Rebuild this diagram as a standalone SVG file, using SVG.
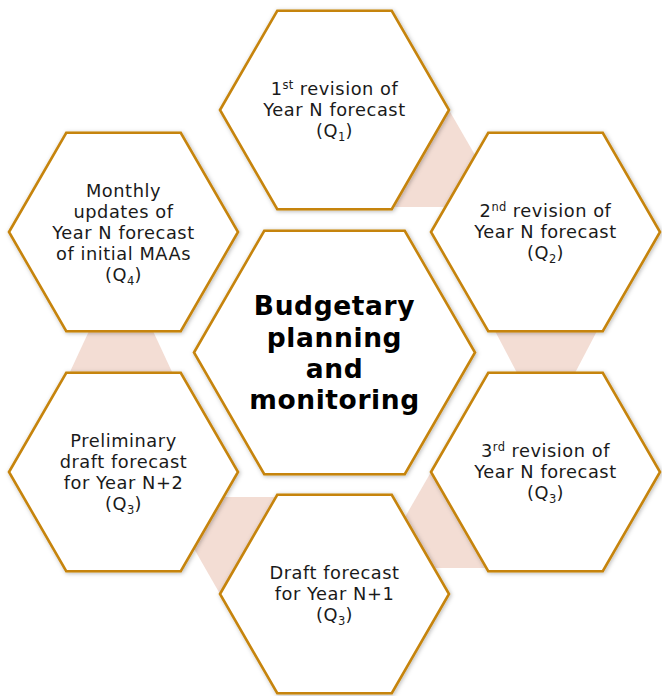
<svg xmlns="http://www.w3.org/2000/svg" width="662" height="696" viewBox="0 0 662 696">
<defs>
<filter id="sh" x="-10%" y="-10%" width="120%" height="120%">
<feDropShadow dx="1" dy="1" stdDeviation="2" flood-color="#000" flood-opacity="0.28"/>
</filter>
<style>
.hex{fill:#fff;stroke:#C6840C;stroke-width:2.6;stroke-linejoin:miter;filter:url(#sh)}
.lnk{fill:#F3DDD4;stroke:none}
.t{font-family:"DejaVu Sans","Liberation Sans",sans-serif;font-size:17.8px;letter-spacing:0.55px;fill:#1a1a1a;text-anchor:middle}
.c{font-family:"DejaVu Sans","Liberation Sans",sans-serif;font-size:26.5px;font-weight:bold;letter-spacing:0.6px;fill:#000;text-anchor:middle}
.s{font-size:11.5px;letter-spacing:0.3px}
</style>
</defs>
<rect width="662" height="696" fill="#fff"/>
<g id="connectors">
<polygon class="lnk" points="449,110 505,207 380,207 440,110"/>
<polygon class="lnk" points="493.4,328 598.6,328 573.4,376 518.6,376"/>
<polygon class="lnk" points="431,472 404.8,517.4 420,568 500,568 460,472"/>
<polygon class="lnk" points="215,497 285,497 230,594 220,594 193.9,548.4"/>
<polygon class="lnk" points="90.4,328 151.6,328 173.9,376 68.1,376"/>
</g>
<g id="n1">
<polygon class="hex" points="220,110 277.25,10.8 391.75,10.8 449,110 391.75,209.2 277.25,209.2"/>
<text class="t"><tspan x="334.5" y="95">1<tspan class="s" dy="-6">st</tspan><tspan dy="6"> revision of</tspan></tspan><tspan x="334.5" y="116">Year N forecast</tspan><tspan x="334.5" y="137">(Q<tspan class="s" dy="4">1</tspan><tspan dy="-4">)</tspan></tspan></text>
</g>
<g id="n2">
<polygon class="hex" points="431,232 488.25,132.8 602.75,132.8 660,232 602.75,331.2 488.25,331.2"/>
<text class="t"><tspan x="545.5" y="217">2<tspan class="s" dy="-6">nd</tspan><tspan dy="6"> revision of</tspan></tspan><tspan x="545.5" y="238">Year N forecast</tspan><tspan x="545.5" y="259">(Q<tspan class="s" dy="4">2</tspan><tspan dy="-4">)</tspan></tspan></text>
</g>
<g id="n3">
<polygon class="hex" points="431,472 488.25,372.8 602.75,372.8 660,472 602.75,571.2 488.25,571.2"/>
<text class="t"><tspan x="545.5" y="457">3<tspan class="s" dy="-6">rd</tspan><tspan dy="6"> revision of</tspan></tspan><tspan x="545.5" y="478">Year N forecast</tspan><tspan x="545.5" y="499">(Q<tspan class="s" dy="4">3</tspan><tspan dy="-4">)</tspan></tspan></text>
</g>
<g id="n4">
<polygon class="hex" points="220,594 277.25,494.8 391.75,494.8 449,594 391.75,693.2 277.25,693.2"/>
<text class="t"><tspan x="334.5" y="579">Draft forecast</tspan><tspan x="334.5" y="600">for Year N+1</tspan><tspan x="334.5" y="621">(Q<tspan class="s" dy="4">3</tspan><tspan dy="-4">)</tspan></tspan></text>
</g>
<g id="n5">
<polygon class="hex" points="9,472 66.25,372.8 180.75,372.8 238,472 180.75,571.2 66.25,571.2"/>
<text class="t"><tspan x="123.5" y="447">Preliminary</tspan><tspan x="123.5" y="468">draft forecast</tspan><tspan x="123.5" y="489">for Year N+2</tspan><tspan x="123.5" y="510">(Q<tspan class="s" dy="4">3</tspan><tspan dy="-4">)</tspan></tspan></text>
</g>
<g id="n6">
<polygon class="hex" points="9,232 66.25,132.8 180.75,132.8 238,232 180.75,331.2 66.25,331.2"/>
<text class="t"><tspan x="123.5" y="197">Monthly</tspan><tspan x="123.5" y="218">updates of</tspan><tspan x="123.5" y="239">Year N forecast</tspan><tspan x="123.5" y="260">of initial MAAs</tspan><tspan x="123.5" y="281">(Q<tspan class="s" dy="4">4</tspan><tspan dy="-4">)</tspan></tspan></text>
</g>
<g id="center">
<polygon class="hex" points="194,352.5 264.25,230.8 404.75,230.8 475,352.5 404.75,474.2 264.25,474.2"/>
<text class="c"><tspan x="334.5" y="315">Budgetary</tspan><tspan x="334.5" y="346.5">planning</tspan><tspan x="334.5" y="378">and</tspan><tspan x="334.5" y="409">monitoring</tspan></text>
</g>
</svg>
